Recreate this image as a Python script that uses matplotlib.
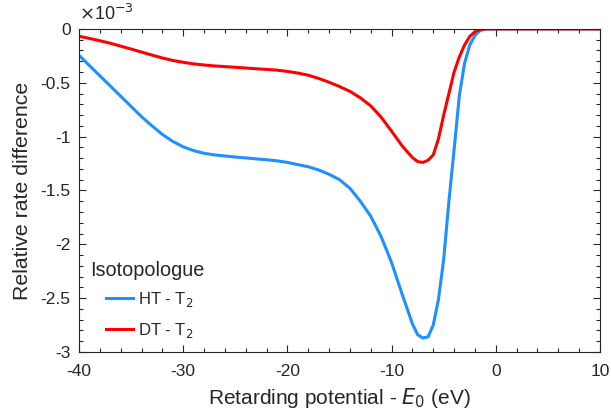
import matplotlib
matplotlib.use("Agg")
import matplotlib.pyplot as plt
from matplotlib.ticker import MultipleLocator, FuncFormatter
from matplotlib.lines import Line2D

plt.rcParams['font.family'] = ['Liberation Sans', 'DejaVu Sans']

energy = [-40, -39, -38, -37, -36, -35, -34, -33, -32, -31, -30, -29, -28, -27,
          -26, -25, -24, -23, -22, -21, -20, -19, -18, -17, -16, -15, -14, -13,
          -12, -11, -10, -9, -8, -7.5, -7, -6.5, -6, -5.5, -5, -4.5, -4, -3.5,
          -3, -2.5, -2, -1.5, -1, 0, 2, 4, 6, 8, 10]

ht_t2 = [-0.245, -0.34, -0.435, -0.53, -0.625, -0.72, -0.815, -0.90, -0.98,
         -1.045, -1.095, -1.13, -1.155, -1.17, -1.18, -1.19, -1.198, -1.207,
         -1.215, -1.225, -1.24, -1.26, -1.28, -1.31, -1.35, -1.40, -1.48, -1.60,
         -1.74, -1.93, -2.17, -2.46, -2.74, -2.84, -2.87, -2.86, -2.75, -2.51,
         -2.14, -1.60, -1.12, -0.62, -0.32, -0.15, -0.06, -0.015, 0,
         0, 0, 0, 0, 0, 0]

dt_t2 = [-0.068, -0.088, -0.11, -0.133, -0.16, -0.187, -0.215, -0.243, -0.27,
         -0.293, -0.31, -0.325, -0.335, -0.344, -0.35, -0.356, -0.363, -0.37,
         -0.376, -0.383, -0.395, -0.41, -0.43, -0.46, -0.495, -0.535, -0.58,
         -0.64, -0.715, -0.82, -0.95, -1.085, -1.195, -1.232, -1.24, -1.22, -1.17,
         -1.02, -0.80, -0.60, -0.40, -0.26, -0.15, -0.07, -0.025, -0.005, 0,
         0, 0, 0, 0, 0, 0]

series_labels = ['HT - T$_2$', 'DT - T$_2$']
series_colors = ['#1E90FF', '#FF0000']
legend_title = 'Isotopologue'
xlabel = 'Retarding potential - $\\it{E}_0$ (eV)'
ylabel = 'Relative rate difference'

dark = '#262626'
fig = plt.figure(figsize=(6.11, 4.19), dpi=100)
ax = fig.add_axes([0.1293, 0.16, 0.8527, 0.771])

ax.plot(energy, ht_t2, color=series_colors[0], lw=2.2)
ax.plot(energy, dt_t2, color=series_colors[1], lw=2.2)

ax.set_xlim(-40, 10)
ax.set_ylim(-3, 0)
ax.xaxis.set_major_locator(MultipleLocator(10))
ax.xaxis.set_minor_locator(MultipleLocator(2))
ax.yaxis.set_major_locator(MultipleLocator(0.5))
ax.yaxis.set_minor_locator(MultipleLocator(0.1))

def fmt(v, pos):
    s = ('%g' % v)
    return '0' if s in ('-0', '0') else s

ax.yaxis.set_major_formatter(FuncFormatter(fmt))
ax.xaxis.set_major_formatter(FuncFormatter(fmt))
ax.tick_params(which='both', direction='in', top=True, right=True, colors=dark,
               labelsize=12.5, width=0.8)
ax.tick_params(axis='x', which='major', pad=9)
ax.tick_params(axis='y', which='major', pad=6)
ax.tick_params(which='major', length=5)
ax.tick_params(which='minor', length=3)
for s in ax.spines.values():
    s.set_color(dark)
    s.set_linewidth(0.8)

ax.set_xlabel(xlabel, fontsize=15, color=dark, labelpad=5)
ax.set_ylabel(ylabel, fontsize=15.3, color=dark, labelpad=6)

ax.text(0.0, 1.015, '$\\times$10$^{-3}$', transform=ax.transAxes, fontsize=13,
        color=dark, ha='left', va='bottom')

# legend title + entries
fig.text(90 / 611, 1 - 271 / 419, legend_title,
         fontsize=14.3, color=dark, ha='left', va='center')
handles = [Line2D([], [], color=c, lw=2.2) for c in series_colors]
leg = fig.legend(handles, series_labels, loc='upper left',
                 bbox_to_anchor=(106 / 611, 1 - 290 / 419),
                 bbox_transform=fig.transFigure, frameon=False,
                 fontsize=12, handlelength=1.65, handletextpad=0.3,
                 borderpad=0, borderaxespad=0, labelspacing=0.72)
for t in leg.get_texts():
    t.set_color(dark)

fig.savefig('out.png', dpi=100)
